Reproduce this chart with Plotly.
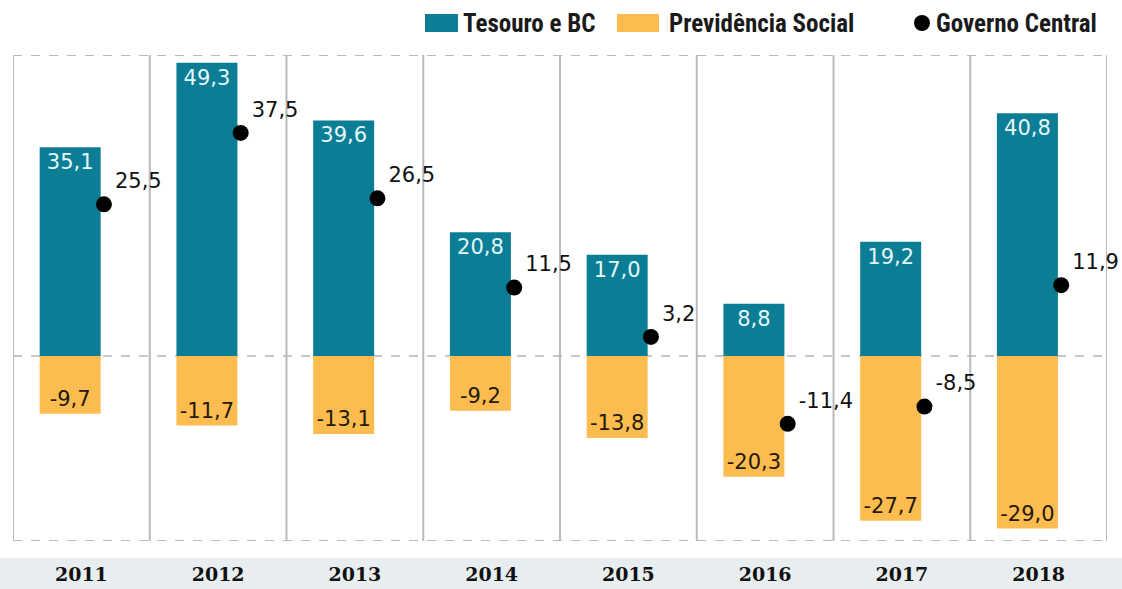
import numpy as np
import plotly.graph_objects as go

# Resultado primário por ano (R$ bilhões)
years = ["2011", "2012", "2013", "2014", "2015", "2016", "2017", "2018"]
tesouro_bc = [35.1, 49.3, 39.6, 20.8, 17.0, 8.8, 19.2, 40.8]
previdencia = [-9.7, -11.7, -13.1, -9.2, -13.8, -20.3, -27.7, -29.0]
governo_central = [25.5, 37.5, 26.5, 11.5, 3.2, -11.4, -8.5, 11.9]
series_names = ["Tesouro e BC", "Previdência Social", "Governo Central"]

TEAL = "#0b7e96"
ORANGE = "#fdbc4f"
GRID = "#b9b9b9"

W, H = 1122, 589
M_L, M_R, M_T, M_B = 13, 15, 55, 48
PW, PH = W - M_L - M_R, H - M_T - M_B

pos = np.arange(len(years))


def br(v):
    return f"{v:.1f}".replace(".", ",")


def px_x(p):
    """pixel column -> paper x"""
    return (p - M_L) / PW


def px_y(p):
    """pixel row -> paper y"""
    return (H - M_B - p) / PH


BAR_OFFSET = -0.305
BAR_WIDTH = 0.446
DOT_SHIFT = 0.165
LABEL_FONT = "DejaVu Sans"
LEGEND_FONT = "Roboto Condensed, Roboto"

fig = go.Figure()

fig.add_trace(go.Bar(
    x=pos, y=tesouro_bc, name=series_names[0],
    marker=dict(color=TEAL, line=dict(width=0)),
    offset=BAR_OFFSET, width=BAR_WIDTH,
    text=[br(v) for v in tesouro_bc], textposition="inside",
    insidetextanchor="end", constraintext="none",
    textfont=dict(family=LABEL_FONT, size=21, color="#e3f8f8"),
    hoverinfo="skip",
))
fig.add_trace(go.Bar(
    x=pos, y=previdencia, name=series_names[1],
    marker=dict(color=ORANGE, line=dict(width=0)),
    offset=BAR_OFFSET, width=BAR_WIDTH,
    text=[br(v) for v in previdencia], textposition="inside",
    insidetextanchor="end", constraintext="none",
    textfont=dict(family=LABEL_FONT, size=21, color="#241a0d"),
    hoverinfo="skip",
))
fig.add_trace(go.Scatter(
    x=pos + DOT_SHIFT, y=governo_central, name=series_names[2],
    mode="markers+text",
    marker=dict(color="#000000", size=16),
    text=[br(v) for v in governo_central], textposition="top right",
    textfont=dict(family=LABEL_FONT, size=21, color="#111111"),
    hoverinfo="skip", cliponaxis=False,
))

Y_MIN, Y_MAX = -31.1, 50.6

shapes = []
# gray strip behind the year labels
shapes.append(dict(type="rect", xref="paper", yref="paper",
                   x0=px_x(0), x1=px_x(W), y0=px_y(558), y1=px_y(H),
                   fillcolor="#e8edef", line=dict(width=0), layer="below"))
# dashed top, bottom and zero lines
for yv in (Y_MAX, Y_MIN, 0):
    shapes.append(dict(type="line", xref="x", yref="y",
                       x0=-0.5, x1=len(years) - 0.5, y0=yv, y1=yv,
                       line=dict(color=GRID if yv != 0 else "#c8c8c8",
                                 width=2, dash="dash"),
                       layer="below"))
# solid separators between the year panels
for xv in np.arange(len(years) + 1) - 0.5:
    shapes.append(dict(type="line", xref="x", yref="y",
                       x0=xv, x1=xv, y0=Y_MIN, y1=Y_MAX,
                       line=dict(color=GRID, width=2), layer="below"))

# legend drawn as keys + labels across the top right
annotations = []
leg_mid = 23
shapes.append(dict(type="rect", xref="paper", yref="paper",
                   x0=px_x(425), x1=px_x(458), y0=px_y(leg_mid + 9), y1=px_y(leg_mid - 9),
                   fillcolor=TEAL, line=dict(width=0)))
shapes.append(dict(type="rect", xref="paper", yref="paper",
                   x0=px_x(617), x1=px_x(659), y0=px_y(leg_mid + 9), y1=px_y(leg_mid - 9),
                   fillcolor=ORANGE, line=dict(width=0)))
shapes.append(dict(type="circle", xref="paper", yref="paper",
                   x0=px_x(914), x1=px_x(930), y0=px_y(leg_mid + 8), y1=px_y(leg_mid - 8),
                   fillcolor="#000000", line=dict(width=0)))
for name, left in zip(series_names, (461, 667, 934)):
    annotations.append(dict(
        text=name, xref="paper", yref="paper", x=px_x(left), y=px_y(leg_mid),
        xanchor="left", yanchor="middle", showarrow=False,
        font=dict(family=LEGEND_FONT, size=25, color="#1a1a1a", weight="bold"),
    ))

fig.update_layout(
    width=W, height=H,
    margin=dict(l=M_L, r=M_R, t=M_T, b=M_B, autoexpand=False),
    paper_bgcolor="white", plot_bgcolor="white",
    barmode="overlay",
    showlegend=False,
    shapes=shapes,
    annotations=annotations,
    xaxis=dict(range=[-0.5, len(years) - 0.5], showgrid=False, zeroline=False,
               showline=False, tickmode="array", tickvals=pos, ticktext=years,
               ticks="", ticklabelstandoff=20, automargin=False,
               tickfont=dict(family="DejaVu Serif", size=19, color="#111111",
                             weight="bold"),
               fixedrange=True),
    yaxis=dict(range=[Y_MIN, Y_MAX], showgrid=False, zeroline=False,
               showline=False, showticklabels=False, ticks="", fixedrange=True,
               automargin=False),
)

fig.write_html("out.html")
